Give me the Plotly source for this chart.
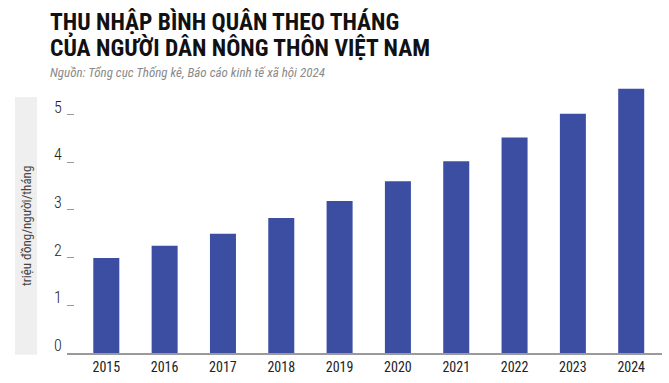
import plotly.graph_objects as go

years = ["2015", "2016", "2017", "2018", "2019", "2020", "2021", "2022", "2023", "2024"]
income = [1.99, 2.25, 2.50, 2.83, 3.19, 3.60, 4.02, 4.52, 5.02, 5.54]
ytick_vals = [0, 1, 2, 3, 4, 5]
ytick_text = ["0", "1", "2", "3", "4", "5"]

title_1 = "THU NHẬP BÌNH QUÂN THEO THÁNG"
title_2 = "CỦA NGƯỜI DÂN NÔNG THÔN VIỆT NAM"
source = "Nguồn: Tổng cục Thống kê, Báo cáo kinh tế xã hội 2024"
y_title = "triệu đồng/người/tháng"

COND = "Roboto Condensed, Liberation Sans Narrow, DejaVu Sans Condensed, sans-serif"

W, H = 669, 383
ML, MR, MT, MB = 67, 7, 85.6, 29.7
PH = H - MT - MB


def py(pix):
    return (H - MB - pix) / PH


def px(pix):
    return (pix - ML) / (W - ML - MR)


fig = go.Figure()
fig.add_trace(go.Bar(
    x=years, y=income,
    marker=dict(color="#3c4ea2", line=dict(width=0)),
    width=0.446,
    hoverinfo="x+y",
))

annotations = [
    dict(text=title_1, xref="paper", yref="paper", x=px(48), y=py(21), xanchor="left",
         yanchor="middle", showarrow=False,
         font=dict(family=COND, size=23.5, color="#111111", weight="bold")),
    dict(text=title_2, xref="paper", yref="paper", x=px(48), y=py(46), xanchor="left",
         yanchor="middle", showarrow=False,
         font=dict(family=COND, size=23.5, color="#111111", weight="bold")),
    dict(text="<i>" + source + "</i>", xref="paper", yref="paper", x=px(48), y=py(72),
         xanchor="left", yanchor="middle", showarrow=False,
         font=dict(family=COND, size=13, color="#8a8a8a")),
    dict(text=y_title, xref="paper", yref="paper", x=px(26), y=py(226), xanchor="center", yanchor="middle",
         textangle=-90, showarrow=False, font=dict(family=COND, size=13, color="#444444")),
]
for v, t in zip(ytick_vals, ytick_text):
    annotations.append(dict(text=t, xref="paper", yref="y", x=0, y=v, xanchor="right", yanchor="bottom",
                            xshift=-3, yshift=-4, showarrow=False,
                            font=dict(family=COND, size=16, color="#222222", weight=300)))

fig.update_layout(
    width=W, height=H,
    margin=dict(l=ML, r=MR, t=MT, b=MB, pad=0, autoexpand=False),
    plot_bgcolor="white", paper_bgcolor="white",
    showlegend=False,
    annotations=annotations,
    shapes=[dict(type="rect", xref="paper", yref="paper", x0=px(15), x1=px(37), y0=py(355), y1=py(96.7),
                 fillcolor="#efefef", line=dict(width=0), layer="below")],
    xaxis=dict(
        type="category", range=[-0.674, 9.528], automargin=False,
        showline=True, linecolor="#9a9a9a", linewidth=1.5,
        ticks="", showgrid=False, zeroline=False,
        tickfont=dict(family=COND, size=14, color="#222222"),
    ),
    yaxis=dict(
        range=[0, 5.6], tickvals=ytick_vals, showticklabels=False, automargin=False,
        ticks="inside", ticklen=7, tickcolor="#9a9a9a", tickwidth=1,
        showgrid=False, zeroline=False, showline=False,
    ),
    bargap=0.554,
)

fig.write_html("out.html", config={"displayModeBar": False},
               post_script="document.body.style.margin='0';")
